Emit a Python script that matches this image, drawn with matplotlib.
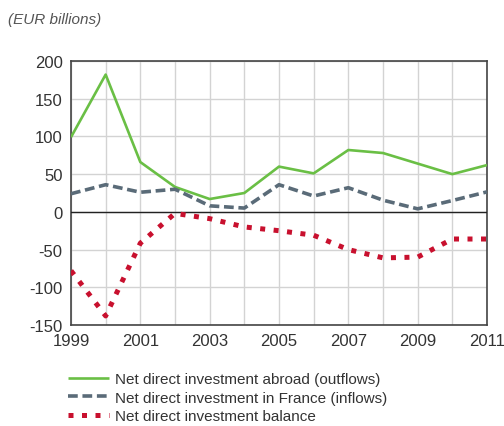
import matplotlib
matplotlib.use("Agg")
import matplotlib.pyplot as plt
from matplotlib.ticker import MultipleLocator, FixedLocator

years = list(range(1999, 2012))
outflows = [99, 182, 66, 33, 17, 25, 60, 51, 82, 78, 64, 50, 62]
inflows = [24, 36, 26, 30, 8, 5, 36, 21, 32, 15.5, 4, 15, 26.5]
balance = [-78, -138, -41.5, -2, -9, -20, -25, -31, -50, -61, -60, -36, -36]
tick_years = [1999, 2001, 2003, 2005, 2007, 2009, 2011]
labels = ["Net direct investment abroad (outflows)",
          "Net direct investment in France (inflows)",
          "Net direct investment balance"]
unit_label = "(EUR billions)"

plt.rcParams['font.family'] = ['Liberation Sans', 'DejaVu Sans']
plt.rcParams['axes.unicode_minus'] = False

fig = plt.figure(figsize=(5.04, 4.27), dpi=100)
ax = fig.add_axes([71/504, 1-326/427, (487-71)/504, (326-62)/427])

ax.plot(years, outflows, color='#6abf45', lw=1.9, solid_capstyle='butt', zorder=4)
ax.plot(years, inflows, color='#5a6b78', lw=2.6, dashes=(2.7, 1.3), dash_capstyle='butt', zorder=4)
ax.plot(years, balance, color='#c8102e', lw=3.6, dashes=(1, 1.7), dash_capstyle='butt', zorder=4)

ax.set_xlim(1999, 2011)
ax.set_ylim(-150, 200)
ax.xaxis.set_major_locator(FixedLocator(tick_years))
ax.xaxis.set_minor_locator(MultipleLocator(1))
ax.yaxis.set_major_locator(MultipleLocator(50))
ax.grid(True, which='both', color='#d3d3d3', lw=1.0, zorder=0)
ax.axhline(0, color='#222222', lw=1.0, zorder=3)
ax.tick_params(which='both', length=0, labelsize=12, colors='#333333', pad=6)
for s in ax.spines.values():
    s.set_color('#444444')
    s.set_linewidth(1.2)

fig.text(8/504, 1-20/427, unit_label, style='italic', color='#555555', fontsize=11, va='center', ha='left')

leg = fig.legend(labels=labels, handles=ax.lines[:3], loc='upper left',
                 bbox_to_anchor=(62/504, 1-367/427), frameon=False, fontsize=11,
                 handlelength=2.7, handletextpad=0.4, labelspacing=0.3, borderaxespad=0)
for t in leg.get_texts():
    t.set_color('#333333')

fig.savefig('out.png', dpi=100)
